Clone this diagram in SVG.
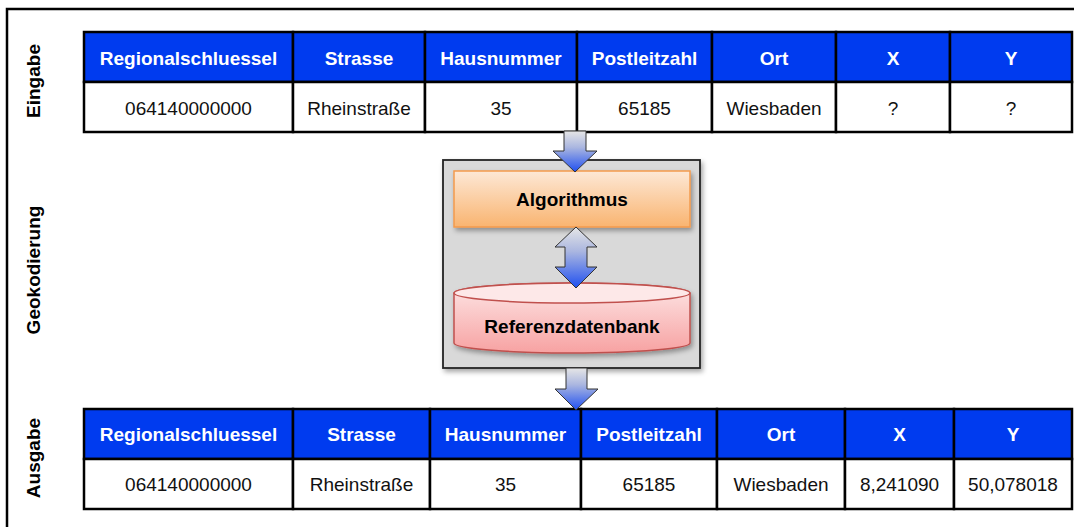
<svg xmlns="http://www.w3.org/2000/svg" width="1074" height="527" viewBox="0 0 1074 527">
<style>
.hd{fill:#003BEF;stroke:#000;stroke-width:2.5}
.cell{fill:#fff;stroke:#000;stroke-width:2.5}
.ht{font-family:"Liberation Sans",Arial,sans-serif;font-size:19px;font-weight:bold;fill:#fff;text-anchor:middle}
.dt{font-family:"Liberation Sans",Arial,sans-serif;font-size:19px;fill:#111;text-anchor:middle}
.lb{font-family:"Liberation Sans",Arial,sans-serif;font-size:19px;font-weight:bold;fill:#000;text-anchor:middle}
.bt{font-family:"Liberation Sans",Arial,sans-serif;font-size:19px;font-weight:bold;fill:#000;text-anchor:middle}
.arr{fill:url(#ag);stroke:#333;stroke-width:1}
</style>
<defs>
<linearGradient id="ag" x1="0" y1="0" x2="0" y2="1">
<stop offset="0" stop-color="#e6e6e6"/>
<stop offset="0.4" stop-color="#aab6e0"/>
<stop offset="1" stop-color="#1f4ff0"/>
</linearGradient>
<linearGradient id="og" x1="0" y1="0" x2="0" y2="1">
<stop offset="0" stop-color="#fde8d6"/>
<stop offset="1" stop-color="#f9b470"/>
</linearGradient>
<linearGradient id="pg" x1="0" y1="0" x2="0" y2="1">
<stop offset="0" stop-color="#fde6e6"/>
<stop offset="1" stop-color="#f7a2a2"/>
</linearGradient>
<filter id="sh" x="-10%" y="-10%" width="125%" height="130%">
<feDropShadow dx="2" dy="3" stdDeviation="2.5" flood-color="#000" flood-opacity="0.35"/>
</filter>
</defs>
<rect x="0" y="0" width="1074" height="527" fill="#fff"/>
<rect x="7" y="9" width="1120" height="600" fill="none" stroke="#000" stroke-width="2.5"/>

<g id="labels">
<text class="lb" transform="translate(40,81) rotate(-90)">Eingabe</text>
<text class="lb" transform="translate(40,270) rotate(-90)">Geokodierung</text>
<text class="lb" transform="translate(40,458) rotate(-90)">Ausgabe</text>
</g>

<g id="eingabe">
<rect class="hd" x="84" y="32" width="209" height="50"/>
<rect class="hd" x="293" y="32" width="132" height="50"/>
<rect class="hd" x="425" y="32" width="152" height="50"/>
<rect class="hd" x="577" y="32" width="135" height="50"/>
<rect class="hd" x="712" y="32" width="124" height="50"/>
<rect class="hd" x="836" y="32" width="114" height="50"/>
<rect class="hd" x="950" y="32" width="122" height="50"/>
<rect class="cell" x="84" y="82" width="209" height="50"/>
<rect class="cell" x="293" y="82" width="132" height="50"/>
<rect class="cell" x="425" y="82" width="152" height="50"/>
<rect class="cell" x="577" y="82" width="135" height="50"/>
<rect class="cell" x="712" y="82" width="124" height="50"/>
<rect class="cell" x="836" y="82" width="114" height="50"/>
<rect class="cell" x="950" y="82" width="122" height="50"/>
<text class="ht" x="188.5" y="65">Regionalschluessel</text>
<text class="ht" x="359" y="65">Strasse</text>
<text class="ht" x="501" y="65">Hausnummer</text>
<text class="ht" x="644.5" y="65">Postleitzahl</text>
<text class="ht" x="774" y="65">Ort</text>
<text class="ht" x="893" y="65">X</text>
<text class="ht" x="1011" y="65">Y</text>
<text class="dt" x="188.5" y="115">064140000000</text>
<text class="dt" x="359" y="115">Rheinstraße</text>
<text class="dt" x="501" y="115">35</text>
<text class="dt" x="644.5" y="115">65185</text>
<text class="dt" x="774" y="115">Wiesbaden</text>
<text class="dt" x="893" y="115">?</text>
<text class="dt" x="1011" y="115">?</text>
</g>

<g id="geokodierung">
<rect x="443" y="160" width="257" height="208" fill="#d9d9d9" stroke="#222" stroke-width="1.8" filter="url(#sh)"/>
</g>

<g id="algorithmus">
<rect x="454" y="171" width="236" height="56" fill="url(#og)" stroke="#f39a4c" stroke-width="1.5" filter="url(#sh)"/>
<text class="bt" x="572" y="206">Algorithmus</text>
</g>

<g id="referenzdatenbank">
<path d="M454,293 A118,10 0 0 1 690,293 V343 A118,10 0 0 1 454,343 Z" fill="url(#pg)" stroke="#c0504d" stroke-width="1.5" filter="url(#sh)"/>
<ellipse cx="572" cy="293" rx="118" ry="10" fill="#fde8e8" stroke="#c0504d" stroke-width="1.5"/>
<text class="bt" x="572" y="333">Referenzdatenbank</text>
</g>

<g id="ausgabe">
<rect class="hd" x="84" y="409" width="209" height="50"/>
<rect class="hd" x="293" y="409" width="137" height="50"/>
<rect class="hd" x="430" y="409" width="151" height="50"/>
<rect class="hd" x="581" y="409" width="136" height="50"/>
<rect class="hd" x="717" y="409" width="128" height="50"/>
<rect class="hd" x="845" y="409" width="109" height="50"/>
<rect class="hd" x="954" y="409" width="118" height="50"/>
<rect class="cell" x="84" y="459" width="209" height="50"/>
<rect class="cell" x="293" y="459" width="137" height="50"/>
<rect class="cell" x="430" y="459" width="151" height="50"/>
<rect class="cell" x="581" y="459" width="136" height="50"/>
<rect class="cell" x="717" y="459" width="128" height="50"/>
<rect class="cell" x="845" y="459" width="109" height="50"/>
<rect class="cell" x="954" y="459" width="118" height="50"/>
<text class="ht" x="188.5" y="441">Regionalschluessel</text>
<text class="ht" x="361.5" y="441">Strasse</text>
<text class="ht" x="505.5" y="441">Hausnummer</text>
<text class="ht" x="649" y="441">Postleitzahl</text>
<text class="ht" x="781" y="441">Ort</text>
<text class="ht" x="899.5" y="441">X</text>
<text class="ht" x="1013" y="441">Y</text>
<text class="dt" x="188.5" y="491">064140000000</text>
<text class="dt" x="361.5" y="491">Rheinstraße</text>
<text class="dt" x="505.5" y="491">35</text>
<text class="dt" x="649" y="491">65185</text>
<text class="dt" x="781" y="491">Wiesbaden</text>
<text class="dt" x="899.5" y="491">8,241090</text>
<text class="dt" x="1013" y="491">50,078018</text>
</g>

<g id="connectors">
<path class="arr" d="M564,131 H586 V151 H597 L575,172 L553,151 H564 Z"/>
<path class="arr" d="M576,227 L597,247 H587 V267 H597 L576,288 L555,267 H565 V247 H555 Z"/>
<path class="arr" d="M566,368 H587 V389 H598 L576,410 L555,389 H566 Z"/>
</g>
</svg>
